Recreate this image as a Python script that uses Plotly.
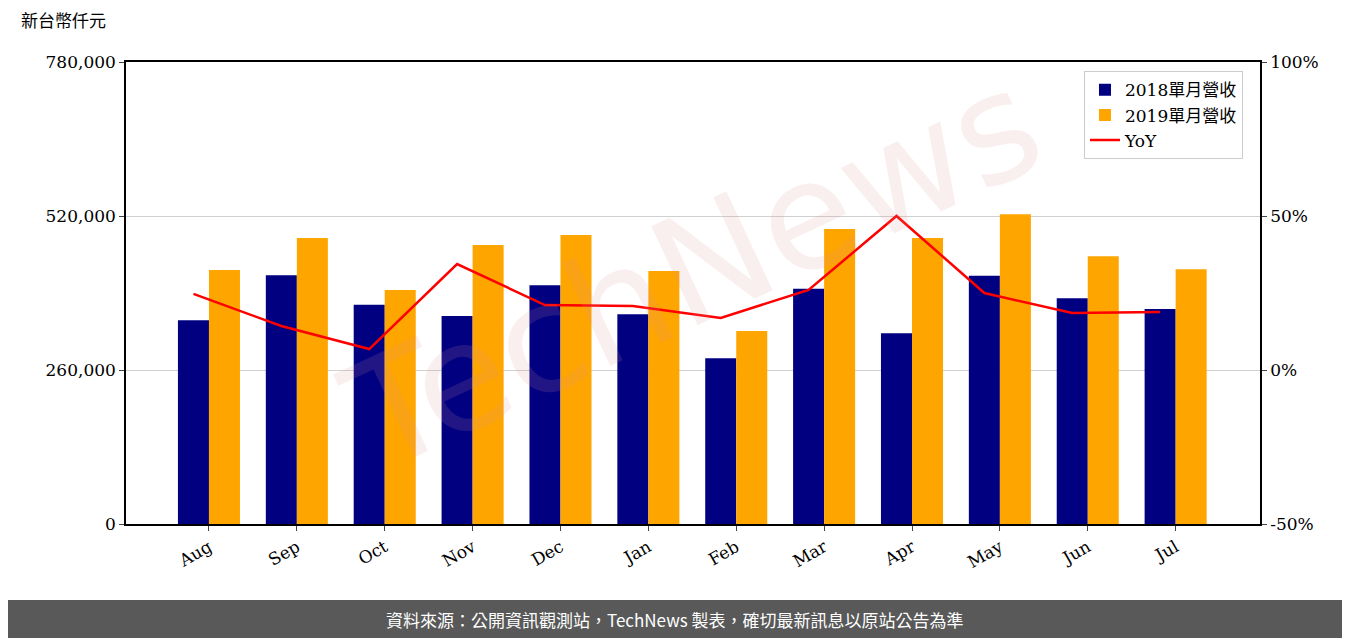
import plotly.graph_objects as go

months = ["Aug","Sep","Oct","Nov","Dec","Jan","Feb","Mar","Apr","May","Jun","Jul"]
rev_2018 = [344000,420000,370000,351000,403000,354000,280000,397000,322000,419000,381000,363000]
rev_2019 = [429000,483000,395000,471000,488000,427000,326000,498000,483000,523000,452000,430000]
yoy = [24.7,14.3,6.8,34.4,21.1,20.8,16.9,26.0,50.0,25.0,18.5,18.8]
y_ticks = [0,260000,520000,780000]
y2_ticks = [-50,0,50,100]

idx = list(range(len(months)))
w = 0.353
serif = "DejaVu Serif"
cjk = "Noto Sans CJK TC"

fig = go.Figure()
fig.add_bar(x=[i - w/2 for i in idx], y=rev_2018, width=w, marker_color="#000080",
            name="2018單月營收", marker_line_width=0)
fig.add_bar(x=[i + w/2 for i in idx], y=rev_2019, width=w, marker_color="#FFA500",
            name="2019單月營收", marker_line_width=0)
fig.add_scatter(x=[i - w/2 for i in idx], y=yoy, mode="lines", line=dict(color="red", width=2.5),
                name="YoY", yaxis="y2")

fig.update_layout(
    width=1342, height=630, plot_bgcolor="white", paper_bgcolor="white",
    margin=dict(l=118, r=90, t=54, b=114, autoexpand=False), barmode="overlay", showlegend=True,
    font=dict(family=serif, size=17, color="black"),
    xaxis=dict(range=[-0.944, 11.96], tickvals=idx, ticktext=months, tickangle=-30, automargin=False,
               showline=True, linecolor="black", linewidth=1.5, mirror=True,
               ticks="outside", ticklen=5, showgrid=False, zeroline=False),
    yaxis=dict(range=[0,780000], tickvals=y_ticks, tickformat=",d", automargin=False,
               showline=True, linecolor="black", linewidth=1.5, ticks="outside", ticklen=5,
               gridcolor="#d0d0d0", zeroline=False),
    yaxis2=dict(range=[-50,100], tickvals=y2_ticks, ticktext=[f"{v}%" for v in y2_ticks],
                overlaying="y", side="right", automargin=False,
                showline=True, linecolor="black", linewidth=1.5, ticks="outside", ticklen=5,
                showgrid=False, zeroline=False),
    legend=dict(x=0.985, y=0.98, xanchor="right", yanchor="top", bordercolor="#cccccc",
                borderwidth=1, bgcolor="rgba(255,255,255,0.8)",
                font=dict(family="DejaVu Serif, Noto Sans CJK TC", size=17)),
    shapes=[dict(type="rect", xref="paper", yref="paper", x0=-0.2, x1=1.2, y0=-0.1645, y1=-0.26,
                 fillcolor="#595959", line_width=0, layer="below")],
    annotations=[
        dict(text="新台幣仟元", xref="paper", yref="paper", x=-0.094, y=1.06, showarrow=False,
             xanchor="left", yanchor="bottom", font=dict(family=cjk, size=17)),
        dict(text="資料來源：公開資訊觀測站，TechNews 製表，確切最新訊息以原站公告為準",
             xref="paper", yref="paper", x=0.484, y=-0.206, showarrow=False, yanchor="middle",
             font=dict(family=cjk, size=17, color="white")),
        dict(text="TechNews", xref="paper", yref="paper", x=0.5, y=0.55, showarrow=False,
             textangle=-25, font=dict(family="DejaVu Sans", size=150, color="rgba(220,150,150,0.15)")),
    ],
)
fig.write_html("out.html")
